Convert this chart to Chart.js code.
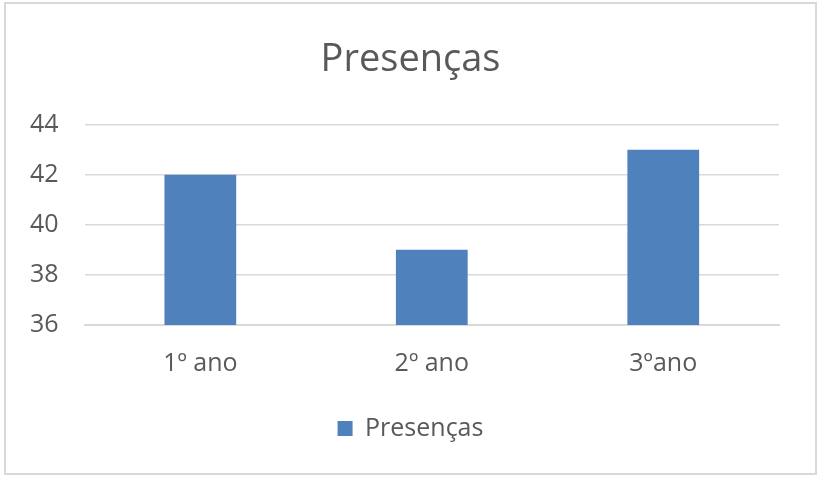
<!DOCTYPE html>
<html>
<head>
<meta charset="utf-8">
<script src="https://cdn.jsdelivr.net/npm/chart.js@4"></script>
<style>
  body { margin: 0; background: #fff; }
  #frame {
    position: absolute; left: 4px; top: 2px;
    width: 809px; height: 469px;
    border: 2px solid #d9d9d9;
  }
</style>
</head>
<body>
<div id="frame"><canvas id="presChart" width="809" height="469"></canvas></div>
<script>
var categories = ['1º ano', '2º ano', '3ºano'];
var presencas = [42, 39, 43];
var yTicks = [36, 38, 40, 42, 44];

var textColor = '#595959';
var fontFamily = '"Open Sans", sans-serif';

var ctx = document.getElementById('presChart');
var presChart = new Chart(ctx, {
  type: 'bar',
  data: {
    labels: categories,
    datasets: [{
      label: 'Presenças',
      data: presencas,
      backgroundColor: '#4f81bd',
      borderWidth: 0,
      barPercentage: 0.31,
      categoryPercentage: 1
    }]
  },
  options: {
    responsive: false,
    animation: false,
    layout: { padding: { left: 17, right: 17, top: 0, bottom: 22 } },
    plugins: {
      title: {
        display: true,
        text: 'Presenças',
        color: textColor,
        font: { family: fontFamily, size: 38, weight: 'normal' },
        padding: { top: 33, bottom: 42 }
      },
      legend: {
        position: 'bottom',
        labels: {
          color: textColor,
          font: { family: fontFamily, size: 25 },
          boxWidth: 15,
          boxHeight: 15,
          padding: 10
        }
      },
      tooltip: { enabled: false }
    },
    scales: {
      x: {
        grid: { display: false, drawTicks: false },
        border: { color: '#d9d9d9', width: 2 },
        ticks: { color: textColor, font: { family: fontFamily, size: 25 }, padding: 24 },
        afterFit: function(axis) { axis.height += 3; }
      },
      y: {
        min: 36,
        max: 44,
        afterBuildTicks: function(axis) {
          axis.ticks = yTicks.map(function(v) { return { value: v }; });
        },
        afterFit: function(axis) { axis.width -= 19; },
        grid: { color: '#d9d9d9', lineWidth: 1.5, drawTicks: false },
        border: { display: false },
        ticks: { color: textColor, font: { family: fontFamily, size: 25 }, padding: 26 }
      },
      // empty right-hand strip so the plot ends where the reference does
      yRight: {
        position: 'right',
        grid: { display: false, drawTicks: false },
        border: { display: false },
        ticks: { display: false },
        afterFit: function(axis) { axis.width = 19; }
      }
    }
  }
});
</script>
</body>
</html>
